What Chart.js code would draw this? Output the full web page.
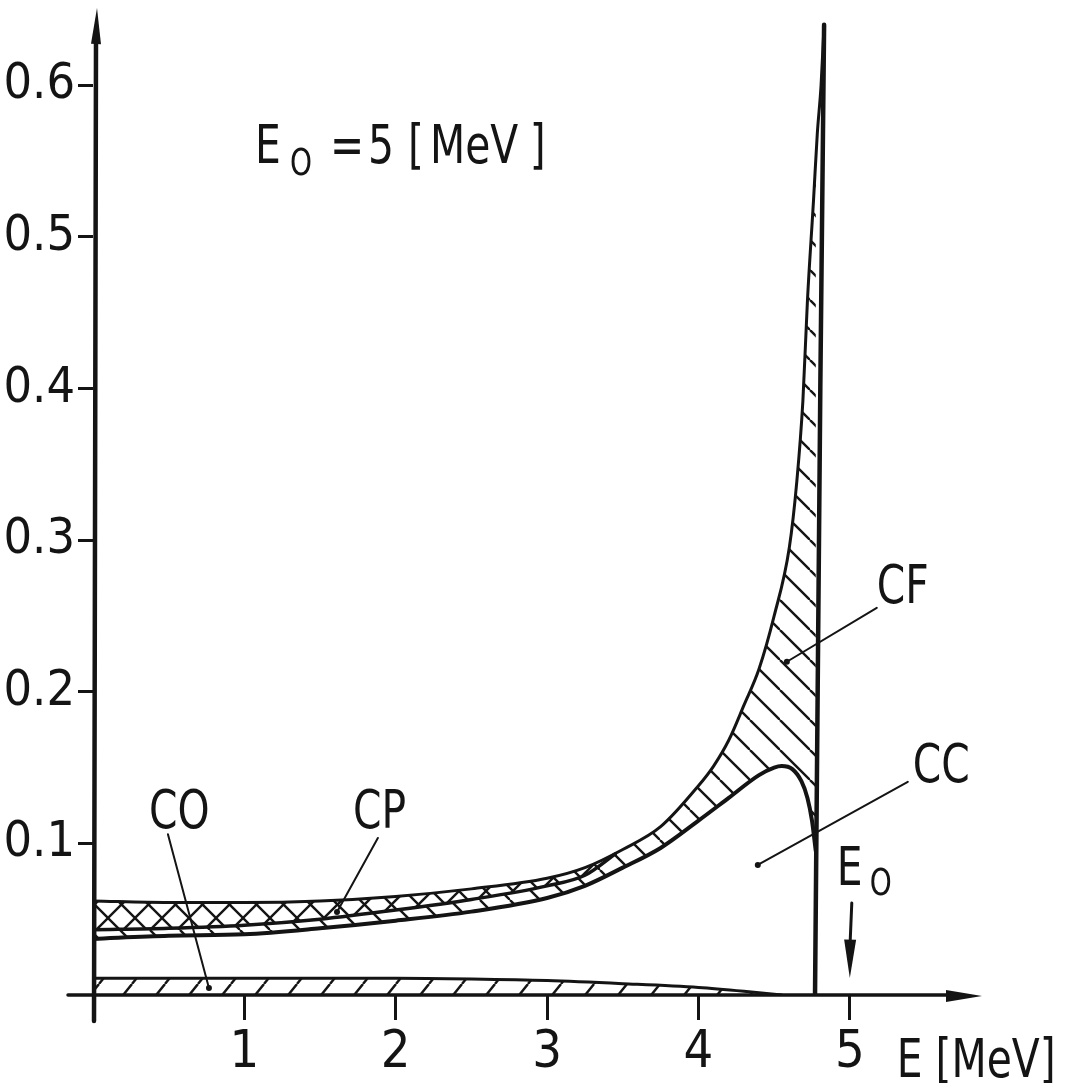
<!DOCTYPE html>
<html>
<head>
<meta charset="utf-8">
<script src="https://cdn.jsdelivr.net/npm/chart.js@4.4.0/dist/chart.umd.min.js"></script>
<style>
  html, body { margin: 0; padding: 0; background: #fff; }
  #wrap { width: 1073px; height: 1083px; }
</style>
</head>
<body>
<div id="wrap"><canvas id="chart" width="1073" height="1083"></canvas></div>
<script>
// Spectrum components for E0 = 5 MeV
const E_TOTAL = [0, 0.5, 1, 1.5, 2, 2.5, 3, 3.25, 3.5, 3.75, 4.0, 4.1, 4.2, 4.3, 4.4, 4.5, 4.6, 4.65, 4.69, 4.72, 4.76, 4.785, 4.81, 4.83];
const TOTAL   = [0.062, 0.061, 0.061, 0.062, 0.065, 0.070, 0.077, 0.084, 0.096, 0.111, 0.138, 0.151, 0.168, 0.191, 0.215, 0.250, 0.295, 0.339, 0.392, 0.458, 0.524, 0.568, 0.600, 0.640];

const E_CC = [0, 0.5, 1, 1.5, 2, 2.5, 3, 3.25, 3.5, 3.75, 4.0, 4.2, 4.4, 4.5, 4.55, 4.62, 4.68, 4.72, 4.75, 4.775];
const CC   = [0.037, 0.039, 0.040, 0.044, 0.049, 0.055, 0.064, 0.072, 0.084, 0.097, 0.115, 0.130, 0.145, 0.150, 0.151, 0.149, 0.141, 0.130, 0.115, 0.095];

// lower edge of the cross-hatched CP band
const E_CP = [0, 0.5, 1, 1.5, 2, 2.5, 3, 3.25, 3.45];
const CP   = [0.043, 0.044, 0.046, 0.050, 0.056, 0.063, 0.072, 0.079, 0.093];

const E_CO = [0, 1, 2, 2.5, 3, 3.5, 4, 4.3, 4.55];
const CO   = [0.011, 0.011, 0.011, 0.0105, 0.0095, 0.0075, 0.005, 0.0025, 0];

// sharp edge at the right of the spectrum
const E_EDGE = [4.77, 4.805, 4.83];
const EDGE   = [0, 0.40, 0.640];

const X_TICKS = [1, 2, 3, 4, 5];
const Y_TICKS = [0.1, 0.2, 0.3, 0.4, 0.5, 0.6];

const INK = '#141414';
const FONT = '"DejaVu Sans Condensed", "DejaVu Sans", sans-serif';

const pts = (xs, ys) => xs.map((x, i) => ({ x, y: ys[i] }));

function hatch(kind, w, h, bg) {
  const c = document.createElement('canvas');
  c.width = w; c.height = h;
  const g = c.getContext('2d');
  if (bg) { g.fillStyle = bg; g.fillRect(0, 0, w, h); }
  g.strokeStyle = INK;
  g.lineWidth = 2.4;
  [-1, 0, 1].forEach(k => {
    if (kind === '/' || kind === 'x') {
      g.beginPath(); g.moveTo(k * w, h); g.lineTo(k * w + w, 0); g.stroke();
    }
    if (kind === '\\' || kind === 'x') {
      g.beginPath(); g.moveTo(k * w, 0); g.lineTo(k * w + w, h); g.stroke();
    }
  });
  return g.createPattern(c, 'repeat');
}

function seg(ctx, x1, y1, x2, y2, w) {
  ctx.lineWidth = w;
  ctx.beginPath(); ctx.moveTo(x1, y1); ctx.lineTo(x2, y2); ctx.stroke();
}

function head(ctx, tx, ty, bx, by, hw) {
  // narrow filled arrow head, tip (tx,ty), base centre (bx,by)
  const dx = tx - bx, dy = ty - by, len = Math.hypot(dx, dy);
  const nx = -dy / len * hw, ny = dx / len * hw;
  ctx.beginPath();
  ctx.moveTo(tx, ty);
  ctx.lineTo(bx + nx, by + ny);
  ctx.lineTo(bx - nx, by - ny);
  ctx.closePath();
  ctx.fill();
}

const decor = {
  id: 'decor',
  afterDatasetsDraw(chart) {
    const { ctx, chartArea, scales } = chart;
    const X = v => scales.x.getPixelForValue(v);
    const Y = v => scales.y.getPixelForValue(v);
    const x0 = X(0), y0 = Y(0);
    ctx.save();
    ctx.strokeStyle = INK;
    ctx.fillStyle = INK;
    ctx.lineCap = 'round';

    // axes with arrows
    seg(ctx, x0 - 25, y0, chartArea.right - 30, y0, 3.5);
    head(ctx, chartArea.right + 2, y0 + 1, chartArea.right - 34, y0 + 1, 6);
    seg(ctx, x0 + 1, y0 + 26, x0 + 3, chartArea.top + 30, 4.5);
    head(ctx, x0 + 4, chartArea.top, x0 + 3, chartArea.top + 36, 5);

    // leader lines
    const leaders = [
      [0.495, 0.106, 0.766, 0.0046],
      [1.882, 0.1036, 1.612, 0.0548],
      [5.178, 0.2554, 4.584, 0.2198],
      [5.383, 0.1406, 4.392, 0.0858]
    ];
    leaders.forEach(([a, b, c, d]) => {
      seg(ctx, X(a), Y(b), X(c), Y(d), 2);
      ctx.beginPath(); ctx.arc(X(c), Y(d), 3, 0, Math.PI * 2); ctx.fill();
    });

    // E0 arrow
    seg(ctx, X(5.013), Y(0.0607), X(5.0), Y(0.030), 3);
    head(ctx, X(5.0), Y(0.0112), X(5.002), Y(0.0365), 6);

    // texts, squeezed a little to get the narrow stencil look
    ctx.textBaseline = 'alphabetic';
    ctx.textAlign = 'left';
    const txt = (s, e, v, size) => {
      ctx.save();
      ctx.translate(X(e), Y(v));
      ctx.scale(0.84, 1);
      ctx.font = `${size}px ${FONT}`;
      ctx.fillText(s, 0, 0);
      ctx.restore();
    };
    txt('E', 1.070, 0.549, 54);
    txt('O', 1.301, 0.541, 37);
    txt('=', 1.565, 0.549, 54);
    txt('5', 1.816, 0.549, 54);
    txt('[', 2.081, 0.549, 54);
    txt('MeV', 2.226, 0.549, 54);
    txt(']', 2.886, 0.549, 54);

    txt('CO', 0.37, 0.110, 54);
    txt('CP', 1.717, 0.110, 54);
    txt('CF', 5.178, 0.2587, 54);
    txt('CC', 5.416, 0.1406, 54);

    txt('E', 4.914, 0.0726, 54);
    txt('O', 5.132, 0.066, 37);

    txt('E [MeV]', 5.31, -0.054, 54);
    ctx.restore();
  }
};

new Chart(document.getElementById('chart'), {
  type: 'line',
  data: {
    datasets: [
      { label: 'CC', data: pts(E_CC, CC), fill: false, borderWidth: 4, order: 0 },
      { label: 'total', data: pts(E_TOTAL, TOTAL), fill: 0, backgroundColor: hatch('\\', 30, 30), order: 4 },
      { label: 'CP', data: pts(E_CP, CP), fill: 1, borderWidth: 3.5, backgroundColor: hatch('x', 27, 27, '#fff'), order: 3 },
      { label: 'CO', data: pts(E_CO, CO), fill: 'origin', backgroundColor: hatch('/', 33, 41), order: 2 },
      { label: 'edge', data: pts(E_EDGE, EDGE), fill: false, borderWidth: 4.5, tension: 0, cubicInterpolationMode: 'default', order: 1 }
    ]
  },
  options: {
    responsive: false,
    animation: false,
    devicePixelRatio: 1,
    layout: { padding: { top: 8, right: 93, left: 0, bottom: 0 } },
    elements: {
      point: { radius: 0 },
      line: { borderColor: INK, borderWidth: 3, cubicInterpolationMode: 'monotone', borderCapStyle: 'round', borderJoinStyle: 'round' }
    },
    plugins: {
      legend: { display: false },
      tooltip: { enabled: false },
      filler: { drawTime: 'beforeDatasetsDraw', propagate: false }
    },
    scales: {
      x: {
        type: 'linear', min: 0, max: 5.86,
        afterBuildTicks: s => { s.ticks = X_TICKS.map(v => ({ value: v })); },
        afterFit: s => { s.height = 88; s.paddingLeft = 0; s.paddingRight = 0; },
        border: { display: false },
        grid: { drawOnChartArea: false, tickLength: 25, tickWidth: 3, tickColor: INK },
        ticks: { color: INK, padding: 2, maxRotation: 0, font: { family: FONT, size: 52 } }
      },
      y: {
        type: 'linear', min: 0, max: 0.651,
        afterBuildTicks: s => { s.ticks = Y_TICKS.map(v => ({ value: v })); },
        afterFit: s => { s.width = 93; s.paddingTop = 0; s.paddingBottom = 0; },
        border: { display: false },
        grid: { drawOnChartArea: false, tickLength: 15, tickWidth: 3, tickColor: INK },
        ticks: { color: INK, padding: 3, font: { family: FONT, size: 50 }, callback: v => v.toFixed(1) }
      }
    }
  },
  plugins: [decor]
});
</script>
</body>
</html>
